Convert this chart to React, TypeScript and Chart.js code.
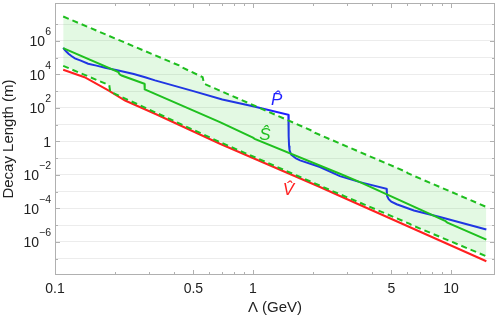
import React, { useEffect, useRef } from "react";
import { Chart, registerables } from "chart.js";

Chart.register(...registerables);

// ---- data (x: Λ in GeV, y: decay length in m) ----
const upperX = [0.11, 0.423, 0.428, 0.557, 0.566, 2.02, 2.05, 5.97, 6.05, 15.1];
const upperY = [2.82e7, 3.39e4, 2.95e4, 6.76e3, 2.75e3, 3.98, 3.31, 1.48e-2, 1.26e-2, 1.23e-4];

const lowerX = [0.11, 0.188, 0.19, 0.332, 0.681, 2.45, 6.2, 6.3, 15.1];
const lowerY = [3.2e4, 2.24e3, 9.3e2, 44.7, 0.912, 1.26e-3, 1.2e-5, 1.05e-5, 1.41e-7];

const vX = [0.11, 0.141, 0.186, 0.226, 0.32, 0.681, 2.18, 2.75, 15.1];
const vY = [1.86e4, 6.76e3, 1.1e3, 275, 44.7, 0.724, 1.91e-3, 5.5e-4, 7.08e-8];

const sX = [0.11, 0.209, 0.212, 0.217, 0.283, 0.284, 0.681, 1.0, 1.02, 2.75, 3.47, 9.4, 9.6, 15.1];
const sY = [3.63e5, 1.35e4, 1.0e4, 8.51e3, 2.75e3, 1.26e3, 14.1, 1.66, 1.41, 1.17e-2, 3.72e-3, 1.74e-5, 1.41e-5, 1.38e-6];

const pX = [0.11, 0.112, 0.114, 0.117, 0.121, 0.126, 0.135, 0.147, 0.162, 0.179, 0.209, 0.25, 0.285, 0.32, 0.5, 0.7, 1.0, 1.51, 1.513, 1.517, 1.522, 1.53, 1.56, 1.65, 1.73, 2.18, 2.75, 3.47, 4.73, 4.745, 4.76, 4.85, 5.0, 5.32, 6.5, 8.8, 15.1];
const pY = [3.8e5, 2.9e5, 2.3e5, 1.7e5, 1.25e5, 8.9e4, 6.6e4, 4.27e4, 3.3e4, 2.45e4, 1.7e4, 1.05e4, 6.76e3, 4.37e3, 1.0e3, 316, 126, 38.9, 10, 2.0, 0.55, 0.3, 0.16, 9.55e-2, 7.41e-2, 2.95e-2, 8.51e-3, 3.72e-3, 1.51e-3, 1.0e-3, 5.5e-4, 3.6e-4, 2.51e-4, 1.78e-4, 7.5e-5, 3.09e-5, 5.5e-6];

const xTickValues = [0.1, 0.5, 1, 5, 10];
const xMinorTicks = [0.2, 0.3, 0.4, 0.6, 0.7, 0.8, 0.9, 2, 3, 4, 6, 7, 8, 9];
const yDecades = [-7, -6, -5, -4, -3, -2, -1, 0, 1, 2, 3, 4, 5, 6, 7];

// label anchors: centre x, baseline y (data coordinates)
const seriesLabels = [
  { text: "P\u0302", x: 1.318, y: 140, color: "#1f1fff" },
  { text: "S\u0302", x: 1.15, y: 1.15, color: "#1ebe1e" },
  { text: "V\u0302", x: 1.51, y: 6.0e-4, color: "#ff2020" },
];

const RED = "#ff2020";
const GREEN = "#1ebe1e";
const BLUE = "#1f1fff";
const FILL = "rgba(40, 210, 40, 0.13)";
const FONT = "'Liberation Sans', Arial, sans-serif";

const pts = (xs: number[], ys: number[]) => xs.map((x, i) => ({ x, y: ys[i] }));

const framePlugin = {
  id: "frame",
  afterDatasetsDraw(chart: any) {
    const { ctx, chartArea: a, scales } = chart;
    const xs = scales.x;
    const ys = scales.y;
    ctx.save();
    ctx.strokeStyle = "#b0b0b0";
    ctx.lineWidth = 1;
    ctx.strokeRect(a.left + 0.5, a.top + 0.5, a.right - a.left - 1, a.bottom - a.top - 1);
    ctx.beginPath();
    const xt = (v: number, len: number) => {
      const px = Math.round(xs.getPixelForValue(v)) + 0.5;
      ctx.moveTo(px, a.bottom);
      ctx.lineTo(px, a.bottom - len);
      ctx.moveTo(px, a.top);
      ctx.lineTo(px, a.top + len);
    };
    xTickValues.forEach((v) => xt(v, 5));
    xMinorTicks.forEach((v) => xt(v, 3));
    yDecades.forEach((d) => {
      const py = Math.round(ys.getPixelForValue(Math.pow(10, d))) + 0.5;
      const len = d % 2 === 0 ? 5 : 3;
      ctx.moveTo(a.left, py);
      ctx.lineTo(a.left + len, py);
      ctx.moveTo(a.right, py);
      ctx.lineTo(a.right - len, py);
    });
    ctx.stroke();

    // y tick labels with real superscripts
    ctx.fillStyle = "#222";
    ctx.textBaseline = "alphabetic";
    ctx.textAlign = "right";
    const right = a.left - 4;
    yDecades.forEach((d) => {
      if (d % 2 !== 0) return;
      const py = ys.getPixelForValue(Math.pow(10, d));
      const base = py + 5.5;
      if (d === 0) {
        ctx.font = `14px ${FONT}`;
        ctx.fillText("1", right, base);
        return;
      }
      const expText = String(d).replace("-", "\u2212");
      ctx.font = `10.5px ${FONT}`;
      const ew = ctx.measureText(expText).width;
      ctx.fillText(expText, right, base - 11);
      ctx.font = `14px ${FONT}`;
      ctx.fillText("10", right - ew, base);
    });

    // series labels
    ctx.textAlign = "center";
    ctx.textBaseline = "alphabetic";
    ctx.font = `italic 17px ${FONT}`;
    seriesLabels.forEach((l) => {
      ctx.fillStyle = l.color;
      ctx.fillText(l.text, xs.getPixelForValue(l.x), ys.getPixelForValue(l.y));
    });
    ctx.restore();
  },
};

export default function App() {
  const ref = useRef<HTMLCanvasElement | null>(null);
  useEffect(() => {
    document.body.style.margin = "0";
    if (!ref.current) return;
    Chart.defaults.font.family = FONT;
    const line = (xs: number[], ys: number[], color: string, dashed: boolean, extra: any = {}) => ({
      data: pts(xs, ys),
      borderColor: color,
      borderWidth: 2,
      borderDash: dashed ? [6, 4] : [],
      fill: false,
      pointRadius: 0,
      tension: 0,
      ...extra,
    });
    const chart = new Chart(ref.current, {
      type: "line",
      data: {
        datasets: [
          line(upperX, upperY, GREEN, true, { fill: "+1", backgroundColor: FILL }),
          line(lowerX, lowerY, GREEN, true),
          line(vX, vY, RED, false),
          line(sX, sY, GREEN, false),
          line(pX, pY, BLUE, false),
        ] as any,
      },
      options: {
        animation: false,
        responsive: false,
        events: [],
        layout: { padding: { top: 3, right: 3, left: 0, bottom: 0 } },
        plugins: { legend: { display: false }, tooltip: { enabled: false } },
        scales: {
          x: {
            type: "logarithmic",
            min: 0.1,
            max: 16.7,
            border: { display: false },
            grid: { display: false, drawTicks: false },
            afterBuildTicks: (s: any) => {
              s.ticks = xTickValues.map((v) => ({ value: v }));
            },
            afterFit: (s: any) => {
              s.height = 43;
              s.paddingLeft = 0;
              s.paddingRight = 0;
            },
            ticks: {
              autoSkip: false,
              maxRotation: 0,
              padding: 6,
              color: "#222",
              font: { size: 14 },
              callback: (v: any) => String(v),
            },
            title: { display: true, text: "\u039B (GeV)", color: "#222", font: { size: 15 }, padding: { top: 2, bottom: 1.5 } },
          },
          y: {
            type: "logarithmic",
            min: 1.07e-8,
            max: 1.8e8,
            border: { display: false },
            grid: { color: "#ececec", drawTicks: false },
            afterBuildTicks: (s: any) => {
              s.ticks = yDecades.map((d) => ({ value: Math.pow(10, d) }));
            },
            afterFit: (s: any) => {
              s.width = 55;
              s.paddingTop = 0;
              s.paddingBottom = 0;
            },
            ticks: {
              autoSkip: false,
              padding: 5,
              font: { size: 14 },
              callback: () => "",
            },
            title: { display: true, text: "Decay Length (m)", color: "#222", font: { size: 15 }, padding: { top: 0, bottom: 0 } },
          },
        },
      },
      plugins: [framePlugin],
    });
    return () => chart.destroy();
  }, []);
  return (
    <div style={{ width: 498, height: 318 }}>
      <canvas ref={ref} width={498} height={318} />
    </div>
  );
}
